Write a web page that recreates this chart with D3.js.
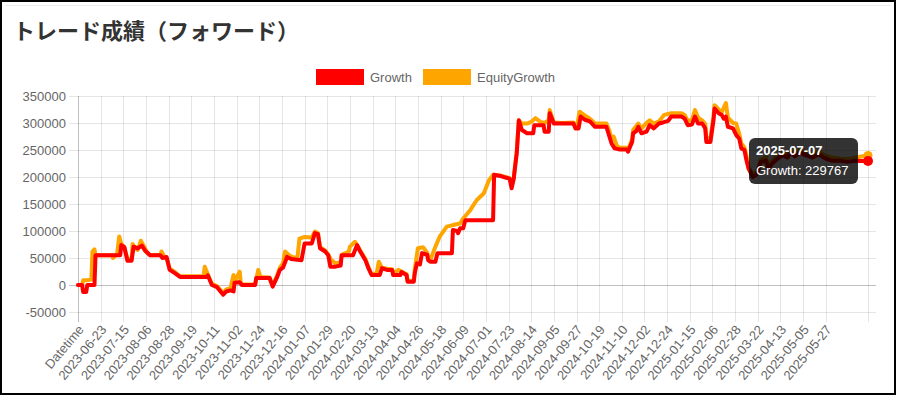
<!DOCTYPE html>
<html><head><meta charset="utf-8">
<script src="https://cdn.jsdelivr.net/npm/d3@7"></script>
<style>
html,body{margin:0;padding:0;background:#fff;}
svg{display:block;}
</style></head>
<body>
<svg id="chart" width="899" height="396"></svg>
<script>
// ---------- data ----------
const title = "トレード成績（フォワード）";
const seriesNames = ["Growth", "EquityGrowth"];
const seriesColors = ["#ff0000", "#ffa500"];
const firstLabel = "Datetime";           // category 0
const originDate = "2023-06-01";         // day 0 (the "Datetime" slot)
const lastDate = "2025-07-07";
const tickLabels = ["Datetime","2023-06-23","2023-07-15","2023-08-06","2023-08-28","2023-09-19","2023-10-11","2023-11-02","2023-11-24","2023-12-16","2024-01-07","2024-01-29","2024-02-20","2024-03-13","2024-04-04","2024-04-26","2024-05-18","2024-06-09","2024-07-01","2024-07-23","2024-08-14","2024-09-05","2024-09-27","2024-10-19","2024-11-10","2024-12-02","2024-12-24","2025-01-15","2025-02-06","2025-02-28","2025-03-22","2025-04-13","2025-05-05","2025-05-27"];
const yTicks = [-50000,0,50000,100000,150000,200000,250000,300000,350000];

// [day offset from originDate, value]
const growthPoints = [[0,0],[4,0],[5,-13000],[8,-13000],[9,0],[16,0],[17,55000],[41,55000],[42,74000],[45,70000],[48,45000],[52,45000],[54,71000],[58,68000],[62,73000],[65,64000],[70,55000],[80,55000],[82,50000],[86,52000],[89,28000],[94,22000],[99,15000],[125,15000],[126,18000],[130,0],[135,-4000],[141,-18000],[144,-12000],[148,-10000],[151,-12000],[152,4000],[157,5000],[159,0],[172,0],[173,13000],[186,13000],[189,-3000],[193,13000],[196,28000],[199,32000],[203,52000],[207,48000],[217,46000],[220,77000],[227,77000],[230,96000],[233,94000],[235,68000],[240,62000],[243,55000],[245,34000],[250,34000],[255,36000],[256,55000],[267,55000],[271,74000],[274,62000],[279,46000],[282,31000],[285,18500],[293,18500],[295,31000],[300,28000],[305,28000],[306,18500],[313,18500],[314,24000],[319,18500],[320,6000],[326,6000],[327,22000],[329,40000],[332,38000],[334,59000],[339,56000],[340,46000],[342,43000],[347,43000],[349,59000],[363,59000],[364,102000],[368,100000],[369,96000],[371,105000],[374,105000],[376,120000],[403,120000],[404,204000],[410,202000],[415,199000],[419,197000],[421,179000],[423,196000],[424,213000],[426,244000],[428,305000],[431,287000],[436,281000],[442,281000],[443,296000],[452,296000],[453,284000],[457,284000],[458,318000],[462,299000],[481,299000],[483,290000],[486,290000],[488,312000],[492,306000],[497,303000],[502,293000],[513,293000],[518,262000],[521,253000],[526,251000],[533,251000],[534,247000],[538,265000],[539,281000],[542,285000],[544,293000],[547,281000],[552,284000],[555,296000],[559,290000],[564,299000],[568,301000],[573,304000],[576,312000],[586,312000],[589,308000],[592,296000],[596,297000],[599,312000],[602,299000],[606,299000],[609,290000],[610,265000],[614,265000],[617,305000],[618,327000],[622,318000],[625,315000],[627,308000],[629,312000],[631,293000],[636,290000],[639,278000],[642,271000],[644,253000],[647,250000],[649,231000],[651,216000],[653,208000],[655,200000],[659,205000],[663,228000],[668,230000],[670,215000],[674,225000],[678,232000],[684,240000],[689,236000],[692,246000],[696,238000],[701,245000],[707,240000],[713,236000],[719,242000],[725,235000],[732,230000],[740,230000],[747,228000],[755,230000],[761,229767],[767,229767]];

const equityPoints = [[0,0],[4,0],[5,9000],[9,9000],[13,10000],[14,62000],[16,66000],[17,55000],[33,55000],[34,50000],[35,52000],[38,58000],[40,90000],[42,76000],[45,70000],[48,48000],[52,47000],[53,76000],[55,70000],[58,65000],[61,82000],[64,72000],[67,60000],[70,55000],[80,56000],[81,62000],[84,52000],[86,50000],[89,30000],[94,24000],[99,16000],[122,16000],[123,34000],[126,20000],[130,2000],[135,-2000],[141,-15000],[144,-8000],[148,-6000],[151,18500],[153,10000],[157,24700],[158,5000],[159,1000],[172,1000],[175,28000],[177,15000],[186,14000],[189,-1000],[193,16000],[196,32000],[199,40000],[201,62000],[205,55000],[208,52000],[213,50000],[215,86000],[220,89000],[227,88000],[230,99000],[233,96000],[235,70000],[240,64000],[243,56000],[246,46000],[250,40000],[255,42000],[256,56000],[263,62000],[264,71000],[269,80000],[274,64000],[279,48000],[282,33000],[285,20000],[290,22000],[292,43000],[295,32000],[300,30000],[305,29000],[306,20000],[311,28000],[314,25000],[319,20000],[320,8000],[326,8000],[327,30000],[330,68000],[335,70000],[339,60000],[340,50000],[342,46000],[347,71000],[351,89000],[358,108000],[364,111000],[371,114000],[374,123000],[381,139000],[387,157000],[394,170000],[399,194000],[403,204000],[410,203000],[415,200000],[419,198000],[421,185000],[423,198000],[424,215000],[426,250000],[428,305000],[431,299000],[436,299000],[440,302000],[444,309000],[449,302000],[453,300000],[457,305000],[458,324000],[462,301000],[470,300000],[481,301000],[483,296000],[485,300000],[487,321000],[492,314000],[497,308000],[502,299000],[513,299000],[516,285000],[518,270000],[520,275000],[523,258000],[526,254000],[533,254000],[534,250000],[538,270000],[539,287000],[544,299000],[547,290000],[552,300000],[555,305000],[559,299000],[564,303000],[569,315000],[576,318000],[586,318000],[589,315000],[592,304000],[596,305000],[599,324000],[602,310000],[606,305000],[609,298000],[610,272000],[614,272000],[617,312000],[618,333000],[622,325000],[625,320000],[629,337000],[631,310000],[636,300000],[639,299000],[642,280000],[644,262000],[647,255000],[649,240000],[651,216000],[653,212000],[655,206000],[659,210000],[663,232000],[668,236000],[670,222000],[674,230000],[678,238000],[684,246000],[689,242000],[692,252000],[696,244000],[701,250000],[707,246000],[713,240000],[719,248000],[725,240000],[732,236000],[740,234000],[747,233000],[755,236000],[761,238000],[767,240000]];

// ---------- drawing ----------
const svg = d3.select("#chart");
const FONT = "'Liberation Sans', Arial, Helvetica, sans-serif";
const parse = d3.utcParse("%Y-%m-%d");
const origin = parse(originDate);
const dayOf = s => s === firstLabel ? 0 : d3.utcDay.count(origin, parse(s));
const lastDay = dayOf(lastDate);

const plot = {left: 78, right: 868, top: 96, bottom: 312};
const x = d3.scaleLinear().domain([0, lastDay]).range([plot.left, plot.right]);
const y = d3.scaleLinear().domain([-50000, 350000]).range([plot.bottom, plot.top]);

// frame
svg.append("rect").attr("x",1).attr("y",1).attr("width",894).attr("height",393)
  .attr("fill","#fff").attr("stroke","#000").attr("stroke-width",2);
svg.append("line").attr("x1",6).attr("x2",890).attr("y1",5.5).attr("y2",5.5)
  .attr("stroke","#eeeeee").attr("stroke-width",1);

// title
svg.append("text").attr("x",13).attr("y",39)
  .attr("font-family","'Noto Sans CJK JP', sans-serif").attr("font-weight","bold")
  .attr("font-size",22).attr("fill","#333").text(title);

// legend
const legendX = [316, 423];
seriesNames.forEach((n,i)=>{
  svg.append("rect").attr("x",legendX[i]).attr("y",69).attr("width",48).attr("height",16)
    .attr("fill",seriesColors[i]);
  svg.append("text").attr("x",legendX[i]+54).attr("y",82).attr("font-family",FONT)
    .attr("font-size",13).attr("fill","#666").text(n);
});

// horizontal grid + y labels
const gridC = "rgba(0,0,0,0.1)", zeroC = "rgba(0,0,0,0.25)";
yTicks.forEach(t=>{
  const yy = Math.round(y(t)) + 0.5;
  svg.append("line").attr("x1",69).attr("x2",876).attr("y1",yy).attr("y2",yy)
    .attr("stroke", t===0 ? zeroC : gridC).attr("stroke-width",1);
  svg.append("text").attr("x",66).attr("y",yy).attr("dy","0.35em").attr("text-anchor","end")
    .attr("font-family",FONT).attr("font-size",13).attr("fill","#666").text(t);
});

// vertical grid + x labels
const xTickDays = tickLabels.map(dayOf).concat([lastDay]);
xTickDays.forEach((d,i)=>{
  const xx = Math.round(x(d)) + 0.5;
  svg.append("line").attr("x1",xx).attr("x2",xx).attr("y1",plot.top).attr("y2",322)
    .attr("stroke", i===0 ? zeroC : gridC).attr("stroke-width",1);
});
tickLabels.forEach(lbl=>{
  const xx = x(dayOf(lbl));
  svg.append("text").attr("transform",`translate(${xx+3},${327}) rotate(-50)`)
    .attr("text-anchor","end").attr("dy","0.35em")
    .attr("font-family",FONT).attr("font-size",13).attr("fill","#666").text(lbl);
});

// lines (EquityGrowth under Growth)
const line = d3.line().x(d=>x(d[0])).y(d=>y(d[1]));
const allSeries = [growthPoints, equityPoints];
[1,0].forEach(i=>{
  svg.append("path").attr("d", line(allSeries[i])).attr("fill","none")
    .attr("stroke", seriesColors[i]).attr("stroke-width",4)
    .attr("stroke-linejoin","round").attr("stroke-linecap","round");
});

// hovered end points
const lastE = equityPoints[equityPoints.length-1], lastG = growthPoints[growthPoints.length-1];
svg.append("circle").attr("cx",x(lastE[0])).attr("cy",y(lastE[1])).attr("r",4.5).attr("fill",seriesColors[1]);
svg.append("circle").attr("cx",x(lastG[0])).attr("cy",y(lastG[1])).attr("r",5).attr("fill",seriesColors[0]);

// tooltip
const tt = svg.append("g").attr("transform","translate(749,138)");
tt.append("rect").attr("width",109).attr("height",46).attr("rx",6).attr("fill","rgba(0,0,0,0.8)");
tt.append("text").attr("x",7).attr("y",17).attr("font-family",FONT).attr("font-weight","bold")
  .attr("font-size",13).attr("fill","#fff").text(lastDate);
tt.append("text").attr("x",7).attr("y",37).attr("font-family",FONT)
  .attr("font-size",13).attr("fill","#fff").text(`${seriesNames[0]}: ${lastG[1]}`);
</script>
</body></html>
